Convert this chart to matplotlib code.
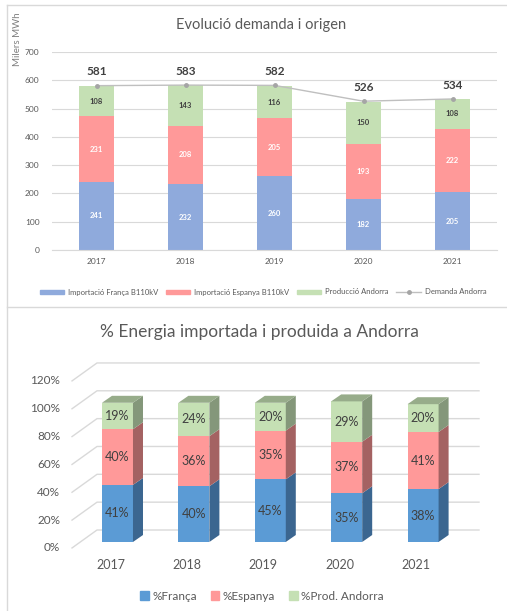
import numpy as np
import matplotlib.pyplot as plt
from matplotlib.patches import Polygon, Patch
from matplotlib.lines import Line2D

plt.rcParams['font.family'] = ['Lato', 'DejaVu Sans']

years = ['2017', '2018', '2019', '2020', '2021']

# top chart (milers MWh)
franca = [241, 232, 260, 182, 205]
espanya = [231, 208, 205, 193, 222]
prod_and = [108, 143, 116, 150, 108]
demanda = [581, 583, 582, 526, 534]

# bottom chart (%)
pct_franca = [41, 40, 45, 35, 38]
pct_espanya = [40, 36, 35, 37, 41]
pct_prod = [19, 24, 20, 29, 20]
pct_ticks = [0, 20, 40, 60, 80, 100, 120]

W, H = 507, 611
fig = plt.figure(figsize=(W / 100, H / 100), dpi=100)


def fx(px):
    return px / W


def fy(px):
    return 1 - px / H


# panel borders
border = '#D9D9D9'
fig.add_artist(Line2D([fx(7), fx(7)], [fy(5), fy(611)], color=border, lw=1))
fig.add_artist(Line2D([fx(7), 1], [fy(5), fy(5)], color=border, lw=1))
fig.add_artist(Line2D([fx(7), 1], [fy(307), fy(307)], color=border, lw=1))

txt = '#595959'

# ---------------- top chart ----------------
c_fr, c_es, c_pr = '#8FAADC', '#FF9999', '#C5E0B4'
ax = fig.add_axes([fx(52), fy(250), fx(497) - fx(52), fy(52) - fy(250)])
x = np.arange(len(years))
ax.bar(x, franca, width=0.4, color=c_fr)
ax.bar(x, espanya, width=0.4, bottom=franca, color=c_es)
bot2 = np.array(franca) + np.array(espanya)
ax.bar(x, prod_and, width=0.4, bottom=bot2, color=c_pr)
ax.plot(x, demanda, color='#BFBFBF', lw=1, marker='o', ms=2.5,
        mfc='#A5A5A5', mec='#A5A5A5')

for i in range(len(years)):
    ax.text(x[i], franca[i] / 2, str(franca[i]), ha='center', va='center',
            color='white', fontsize=5.5, fontweight='bold')
    ax.text(x[i], franca[i] + espanya[i] / 2, str(espanya[i]), ha='center',
            va='center', color='white', fontsize=5.5, fontweight='bold')
    ax.text(x[i], bot2[i] + prod_and[i] / 2, str(prod_and[i]), ha='center',
            va='center', color='#404040', fontsize=5.5, fontweight='bold')
    ax.annotate(str(demanda[i]), (x[i], demanda[i]), xytext=(0, 10),
                textcoords='offset points', ha='center', va='center',
                color='#404040', fontsize=8.5, fontweight='bold')

ax.set_xlim(-0.5, 4.5)
ax.set_ylim(0, 700)
ax.set_yticks(range(0, 701, 100))
ax.set_xticks(x, years)
ax.grid(axis='y', color='#D9D9D9', lw=0.8)
ax.set_axisbelow(True)
for s in ['top', 'right', 'left']:
    ax.spines[s].set_visible(False)
ax.spines['bottom'].set_color('#D9D9D9')
ax.tick_params(axis='both', length=0, labelsize=6, colors=txt)
ax.tick_params(axis='y', pad=9)
ax.tick_params(axis='x', pad=6)

fig.text(fx(261), fy(25), 'Evolució demanda i origen', ha='center',
         va='center', fontsize=10.5, color=txt)
fig.text(fx(17), fy(39), 'Milers MWh', ha='center', va='center',
         rotation=90, fontsize=7, color='#7F7F7F')

handles = [Patch(color=c_fr), Patch(color=c_es), Patch(color=c_pr),
           Line2D([], [], color='#BFBFBF', lw=1, marker='o', ms=2.5,
                  mfc='#A5A5A5', mec='#A5A5A5')]
labels = ['Importació França B110kV', 'Importació Espanya B110kV',
          'Producció Andorra', 'Demanda Andorra']
fig.legend(handles, labels, loc='center', bbox_to_anchor=(fx(263), fy(292)),
           ncol=4, frameon=False, fontsize=5.5, handlelength=3.2,
           handleheight=0.45, columnspacing=1.0, handletextpad=0.5,
           labelcolor=txt)

# ---------------- bottom chart (pseudo 3D) ----------------
# pixel mapping of the oblique view
x0, sx = 135.2, 76.4      # px of category 0 on the back wall, px per category
y0, sy = 530.0, 1.392     # px of 0% on the back wall, px per percent
ax2 = fig.add_axes([0, 0, 1, fy(340)])
ax2.set_xlim(-x0 / sx, (W - x0) / sx)
ax2.set_ylim((y0 - H) / sy, (y0 - 340) / sy)
ax2.axis('off')

floor_dx, floor_dy = -0.327, -12.9   # front edge of floor vs back wall
face_dx, face_dy = -0.232, -8.6      # front face of bars vs back wall
dep_dx, dep_dy = 0.131, 5.0          # bar depth
bw = 0.406

grid_c = '#D9D9D9'
for v in pct_ticks:
    ax2.plot([-0.5 + floor_dx, -0.5, 4.5], [v + floor_dy, v, v],
             color=grid_c, lw=1, zorder=1)
    ax2.text(-0.984, v + floor_dy, f'{v}%', ha='right', va='center',
             fontsize=8.5, color=txt)

cols = [('#5B9BD5', '#3B6690', '#4A7DAA'),
        ('#FF9999', '#A46262', '#CC7A7A'),
        ('#C5E0B4', '#84977A', '#97AC8A')]
series = [pct_franca, pct_espanya, pct_prod]
for i in range(len(years)):
    xc = i + face_dx
    left, right = xc - bw / 2, xc + bw / 2
    base = face_dy
    for k, vals in enumerate(series):
        front, side, top = cols[k]
        b, t = base, base + vals[i]
        ax2.bar(xc, vals[i], width=bw, bottom=b, color=front, zorder=3)
        ax2.add_patch(Polygon([(right, b), (right + dep_dx, b + dep_dy),
                               (right + dep_dx, t + dep_dy), (right, t)],
                              closed=True, color=side, zorder=3, lw=0))
        if k == len(series) - 1:
            ax2.add_patch(Polygon([(left, t), (right, t),
                                   (right + dep_dx, t + dep_dy),
                                   (left + dep_dx, t + dep_dy)],
                                  closed=True, color=top, zorder=3, lw=0))
        ax2.text(xc, (b + t) / 2, f'{vals[i]}%', ha='center', va='center',
                 fontsize=9, color='#404040', zorder=4)
        base = t
    ax2.text(i + face_dx - 0.092, -25, years[i], ha='center', va='center',
             fontsize=9, color=txt)

fig.text(fx(259), fy(332), '% Energia importada i produida a Andorra',
         ha='center', va='center', fontsize=12.5, color=txt)

h2 = [Patch(color=cols[0][0]), Patch(color=cols[1][0]),
      Patch(color=cols[2][0])]
fig.legend(h2, ['%França', '%Espanya', '%Prod. Andorra'], loc='center',
           bbox_to_anchor=(fx(262), fy(596)), ncol=3, frameon=False,
           fontsize=8.5, handlelength=0.7, handleheight=0.7,
           handletextpad=0.3, columnspacing=1.2, labelcolor=txt)

fig.savefig('out.png', dpi=100)
